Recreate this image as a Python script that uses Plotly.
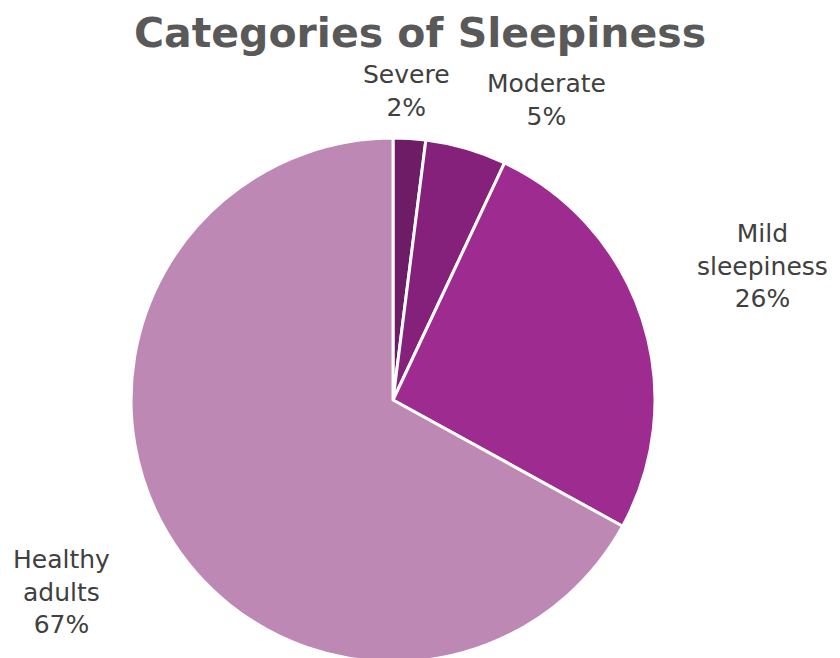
import plotly.graph_objects as go

labels = ["Severe", "Moderate", "Mild<br>sleepiness", "Healthy<br>adults"]
values = [2, 5, 26, 67]
colors = ["#6e1c66", "#86217b", "#9e2b90", "#bd88b4"]

W, H = 840, 658
OFF = 8  # page body margin offset in the browser

# label block centers (screen px) for each slice's outside label
label_pos = [(406, 91), (546, 100), (762, 266), (62, 592)]

total = sum(values)

fig = go.Figure(go.Pie(
    labels=labels,
    values=values,
    sort=False,
    direction="clockwise",
    rotation=0,
    marker=dict(colors=colors, line=dict(color="white", width=3)),
    textinfo="none",
    domain=dict(x=[0.0, 0.9167], y=[0.0061, 0.8024]),
    showlegend=False,
    hoverinfo="label+percent",
))

for lab, val, (px, py) in zip(labels, values, label_pos):
    fig.add_annotation(
        x=(px - OFF) / W, y=1 - (py - OFF) / H, xref="paper", yref="paper",
        text=f"{lab}<br>{round(100 * val / total)}%",
        showarrow=False, xanchor="center", yanchor="middle", align="center",
        font=dict(family="DejaVu Sans", size=25, color="#404040"),
    )

fig.update_layout(
    width=W, height=H,
    paper_bgcolor="white",
    plot_bgcolor="white",
    margin=dict(l=0, r=0, t=0, b=0),
    title=dict(text="<b>Categories of Sleepiness</b>", x=(420 - OFF) / W, xanchor="center",
               y=1 - (33 - OFF) / H, yanchor="middle",
               font=dict(family="DejaVu Sans", size=41, color="#595959")),
)

fig.write_html("out.html")
